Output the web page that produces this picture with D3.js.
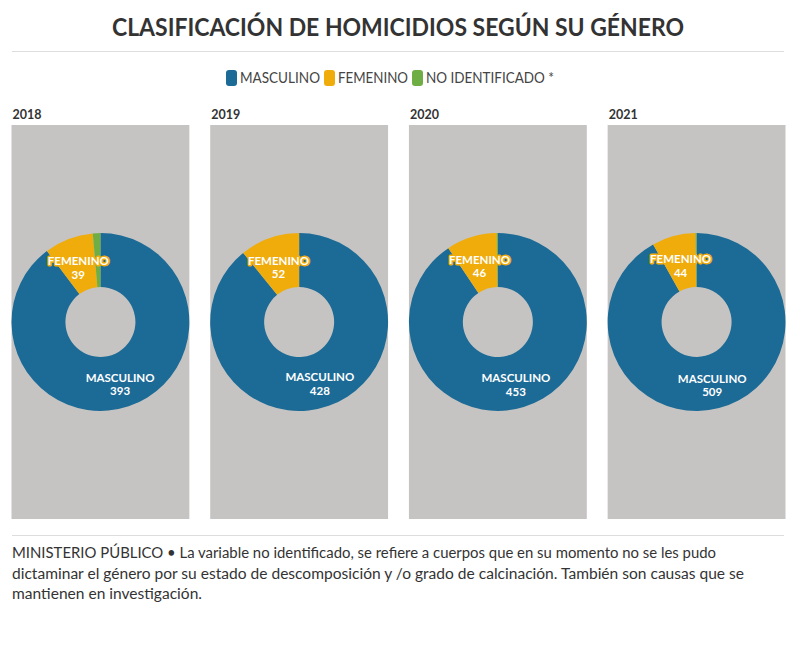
<!DOCTYPE html>
<html><head><meta charset="utf-8">
<script src="https://cdn.jsdelivr.net/npm/d3@7"></script>
<style>
html,body{margin:0;padding:0;background:#fff;}
svg{display:block;font-family:"Lato","Noto Sans",sans-serif;}
</style></head>
<body>
<svg id="c" width="796" height="650"></svg>
<script>
const years = ["2018","2019","2020","2021"];
const categories = ["MASCULINO","FEMENINO","NO IDENTIFICADO *"];
const masculino = [393,428,453,509];
const femenino = [39,52,46,44];
const noIdentificado = [6,0,1,1];
const colors = ["#1c6a96","#efac0b","#6fae44"];
const titleText = "CLASIFICACIÓN DE HOMICIDIOS SEGÚN SU GÉNERO";
const footerLines = [
  "MINISTERIO PÚBLICO • La variable no identificado, se refiere a cuerpos que en su momento no se les pudo",
  "dictaminar el género por su estado de descomposición y /o grado de calcinación. También son causas que se",
  "mantienen en investigación."
];

const svg = d3.select("#c");
const W = 796;

// Title
svg.append("text").attr("x", W/2).attr("y", 36).attr("text-anchor","middle")
  .attr("font-size", 25).attr("font-weight", 700).attr("fill","#333")
  .attr("textLength", 572).attr("lengthAdjust","spacingAndGlyphs")
  .text(titleText);
svg.append("line").attr("x1",12).attr("x2",784).attr("y1",51.5).attr("y2",51.5)
  .attr("stroke","#ddd").attr("stroke-width",1);

// Legend
const color = d3.scaleOrdinal().domain(categories).range(colors);
const lg = svg.append("g");
let lx = 0;
categories.forEach((c,i)=>{
  const g = lg.append("g").attr("transform",`translate(${lx},0)`);
  g.append("rect").attr("x",0).attr("y",70).attr("width",11).attr("height",16).attr("rx",3).attr("fill",color(c));
  const t = g.append("text").attr("x",14).attr("y",83).attr("font-size",14.5).attr("fill","#444").text(c);
  const targetW = [80,70,128][i];
  t.attr("textLength", targetW).attr("lengthAdjust","spacingAndGlyphs");
  lx += 14 + targetW + 4;
});
lg.attr("transform",`translate(${226},0)`);

// Panels
const x = d3.scaleBand().domain(years).range([11.5,785.5]).paddingInner(0.105).paddingOuter(0);
const panelTop = 125, panelBottom = 519;
const outerR = x.bandwidth()/2, innerR = 35;
const pie = d3.pie().sort(null).value(d=>d.value);
const arc = d3.arc().innerRadius(innerR).outerRadius(outerR);

years.forEach((yr,i)=>{
  const data = [
    {cat:categories[0], label:"MASCULINO", value:masculino[i]},
    {cat:categories[1], label:"FEMENINO", value:femenino[i]},
    {cat:categories[2], label:"NO IDENTIFICADO", value:noIdentificado[i]}
  ];
  const x0 = x(yr);
  svg.append("text").attr("x",x0+1).attr("y",119).attr("font-size",12.5).attr("font-weight",700)
    .attr("fill","#333").text(yr);
  svg.append("rect").attr("x",x0).attr("y",panelTop).attr("width",x.bandwidth())
    .attr("height",panelBottom-panelTop).attr("fill","#c5c4c2");
  const cx = x0 + x.bandwidth()/2, cy = (panelTop+panelBottom)/2;
  const g = svg.append("g").attr("transform",`translate(${cx},${cy})`);
  const arcs = pie(data);
  g.selectAll("path").data(arcs).join("path")
    .attr("d",arc).attr("fill",d=>color(d.data.cat));
  arcs.filter(d=>d.data.value>=20).forEach(d=>{
    const [px,py] = arc.centroid(d);
    const t = g.append("text").attr("text-anchor","middle")
      .attr("font-size",11.5).attr("font-weight",700).attr("fill","#fff")
      .attr("stroke",color(d.data.cat)).attr("stroke-width",3).attr("paint-order","stroke")
      .attr("stroke-linejoin","round");
    t.append("tspan").attr("x",px).attr("y",py+1).text(d.data.label);
    t.append("tspan").attr("x",px).attr("y",py+14.5).text(d.data.value);
  });
});

// Footer
svg.append("line").attr("x1",12).attr("x2",784).attr("y1",535.5).attr("y2",535.5)
  .attr("stroke","#ddd").attr("stroke-width",1);
const fw = [704,732,190];
footerLines.forEach((l,i)=>{
  svg.append("text").attr("x",12).attr("y",558+i*20.5).attr("font-size",14.5).attr("fill","#333")
    .attr("textLength",fw[i]).attr("lengthAdjust","spacingAndGlyphs").text(l);
});
</script>
</body></html>
